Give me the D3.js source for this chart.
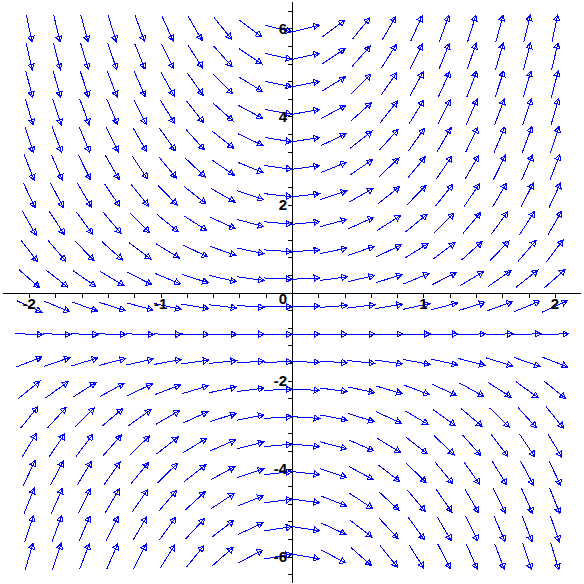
<!DOCTYPE html>
<html>
<head>
<meta charset="utf-8">
<script src="https://cdn.jsdelivr.net/npm/d3@7"></script>
<style>
  html, body { margin: 0; padding: 0; background: #ffffff; }
  svg { display: block; }
</style>
</head>
<body>
<svg id="chart" width="584" height="584"></svg>
<script>
// Direction field of dy/dx = x*(y+1), sampled on a 20 x 20 grid
const xGrid = [-2, -1.789, -1.579, -1.368, -1.158, -0.947, -0.737, -0.526, -0.316, -0.105,
               0.105, 0.316, 0.526, 0.737, 0.947, 1.158, 1.368, 1.579, 1.789, 2];
const yGrid = [6, 5.368, 4.737, 4.105, 3.474, 2.842, 2.211, 1.579, 0.947, 0.316,
               -0.316, -0.947, -1.579, -2.211, -2.842, -3.474, -4.105, -4.737, -5.368, -6];
const slope = (x, y) => x * (y + 1);

const xTickLabels = [-2, -1, 0, 1, 2];
const yTickLabels = [-6, -4, -2, 2, 4, 6];
const xDomain = [-2.2, 2.2];
const yDomain = [-6.6, 6.6];

const svg = d3.select("#chart");
const x = d3.scaleLinear().domain(xDomain).range([2.9, 581.1]);
const y = d3.scaleLinear().domain(yDomain).range([582.9, 2.1]);

const x0 = x(0), y0 = y(0);

// axes
const axes = svg.append("g").attr("stroke", "#000").attr("stroke-width", 1).attr("shape-rendering", "crispEdges");
axes.append("line").attr("x1", x(xDomain[0])).attr("x2", x(xDomain[1])).attr("y1", Math.round(y0) + 0.5).attr("y2", Math.round(y0) + 0.5);
axes.append("line").attr("y1", y(yDomain[1])).attr("y2", y(yDomain[0])).attr("x1", Math.round(x0) + 0.5).attr("x2", Math.round(x0) + 0.5);

const xTicks = d3.range(-11, 12).map(k => k * 0.2).filter(v => Math.abs(v) > 1e-9 && Math.abs(v) < 2.15);
const yTicks = d3.range(-16, 17).map(k => k * 0.4).filter(v => Math.abs(v) > 1e-9 && Math.abs(v) < 6.5);

axes.selectAll("line.xt").data(xTicks).join("line").attr("class", "xt")
  .attr("x1", d => Math.round(x(d)) + 0.5).attr("x2", d => Math.round(x(d)) + 0.5)
  .attr("y1", Math.round(y0)).attr("y2", Math.round(y0) + 5);
axes.selectAll("line.yt").data(yTicks).join("line").attr("class", "yt")
  .attr("y1", d => Math.round(y(d)) + 0.5).attr("y2", d => Math.round(y(d)) + 0.5)
  .attr("x1", Math.round(x0) - 4).attr("x2", Math.round(x0) + 1);

// arrows
const kx = x(1) - x(0), ky = y(0) - y(1);
const L = 27.7, headLen = 5.5, headHalf = 3;
const pts = [];
yGrid.forEach(yv => xGrid.forEach(xv => pts.push({ x: xv, y: yv, s: slope(xv, yv) })));

const arrows = svg.append("g").attr("stroke", "#0000ff").attr("stroke-width", 1)
  .attr("fill", "none").attr("shape-rendering", "crispEdges");
pts.forEach(p => {
  const cx = x(p.x), cy = y(p.y);
  let dx = kx, dy = -p.s * ky;
  const n = Math.hypot(dx, dy); dx /= n; dy /= n;
  const tx = cx - dx * L / 2, ty = cy - dy * L / 2;
  const hx = cx + dx * L / 2, hy = cy + dy * L / 2;
  const bx = hx - dx * headLen, by = hy - dy * headLen;
  const px = -dy * headHalf, py = dx * headHalf;
  arrows.append("line").attr("x1", tx).attr("y1", ty).attr("x2", hx).attr("y2", hy);
  arrows.append("path")
    .attr("d", `M${hx},${hy}L${bx + px},${by + py}L${bx - px},${by - py}Z`)
    .attr("fill", "#ffffff");
  arrows.append("line").attr("x1", bx).attr("y1", by).attr("x2", hx).attr("y2", hy);
});

// labels
const lab = svg.append("g").attr("font-family", "Liberation Sans, Arial, sans-serif")
  .attr("font-weight", "bold").attr("font-size", 15).attr("fill", "#000");
lab.selectAll("text.xl").data(xTickLabels).join("text").attr("class", "xl")
  .attr("x", d => d === 0 ? x0 - 9 : x(d))
  .attr("y", d => d === 0 ? y0 + 11 : y0 + 16)
  .attr("text-anchor", "middle")
  .text(d => d);
lab.selectAll("text.yl").data(yTickLabels).join("text").attr("class", "yl")
  .attr("x", x0 - 5)
  .attr("y", d => y(d) + 5.5)
  .attr("text-anchor", "end")
  .text(d => d);
</script>
</body>
</html>
